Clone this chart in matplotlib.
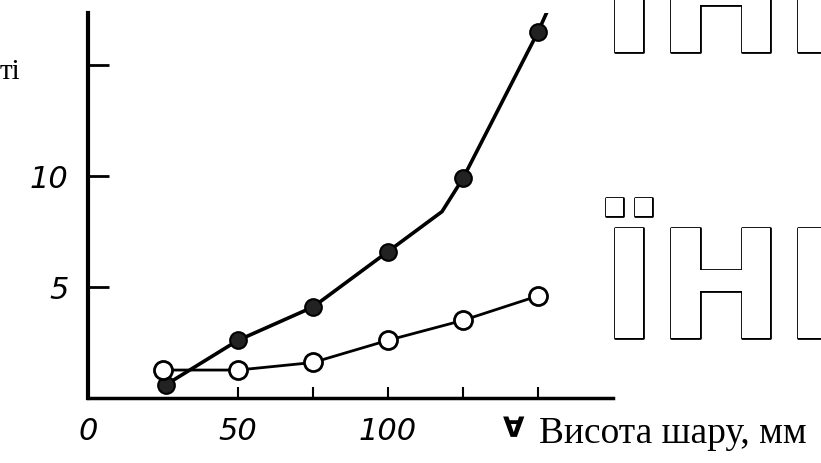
import matplotlib
matplotlib.use("Agg")
import matplotlib.pyplot as plt
import matplotlib.patheffects as pe

# layer height (mm) vs value, two series
filled_x = [26, 50, 75, 100, 125, 150]
filled_y = [0.6, 2.6, 4.1, 6.6, 9.9, 16.5]
# the drawn curve bends a little before 125 and runs on past the last point
filled_line_x = [26, 50, 75, 100, 118, 125, 150, 155]
filled_line_y = [0.6, 2.6, 4.1, 6.6, 8.4, 9.9, 16.5, 18.0]

open_x = [25, 50, 75, 100, 125, 150]
open_y = [1.26, 1.26, 1.6, 2.6, 3.5, 4.6]

xticks = [0, 50, 75, 100, 125, 150]
xtick_labels = ['0', '50', '', '100', '', '']
yticks = [5, 10, 15]
ytick_labels = ['5', '10', '']

fig = plt.figure(figsize=(8.21, 4.63), dpi=100)
ax = fig.add_axes([88/821, 65/463, (613-88)/821, (398-13)/463])

ax.plot(filled_line_x, filled_line_y, color='black', lw=2.6)
ax.plot(filled_x, filled_y, 'o', color='#222222', markersize=12, mec='black', mew=1.5)
ax.plot(open_x, open_y, '-o', color='black', lw=2.0, markersize=13,
        mfc='white', mec='black', mew=2.0)

ax.set_xlim(0, 175)
ax.set_ylim(0, 17.35)
for s in ['top', 'right']:
    ax.spines[s].set_visible(False)
ax.spines['left'].set_linewidth(3)
ax.spines['bottom'].set_linewidth(2.5)

ax.set_xticks(xticks)
ax.set_xticklabels(xtick_labels)
ax.set_yticks(yticks)
ax.set_yticklabels(ytick_labels)
ax.tick_params(axis='x', direction='in', length=8, width=1.5, pad=14, labelsize=22)
ax.tick_params(axis='y', direction='in', length=15, width=2, pad=14, labelsize=22)
for lbl in ax.get_xticklabels() + ax.get_yticklabels():
    lbl.set_fontstyle('italic')

# text around the cropped chart
fig.text(514/821, 1 - 429/463, '\u2200', fontsize=20, weight='bold',
         ha='center', va='center')
fig.text(0.0, 1 - 72/463, 'ті', family='Liberation Serif', fontsize=21, va='center')
fig.text(539/821, 1 - 434/463, 'Висота шару, мм', family='Liberation Serif',
         fontsize=27, va='center')

# outlined watermark letters at the right edge
outline = [pe.withStroke(linewidth=2, foreground='black')]
fig.text(601/821, 1 - 52/463, 'ІНІ', family='DejaVu Sans', weight='bold',
         fontsize=109, color='white', path_effects=outline)
fig.text(601/821, 1 - 338/463, 'ЇНІ', family='DejaVu Sans', weight='bold',
         fontsize=109, color='white', path_effects=outline)

fig.savefig('out.png', dpi=100)
